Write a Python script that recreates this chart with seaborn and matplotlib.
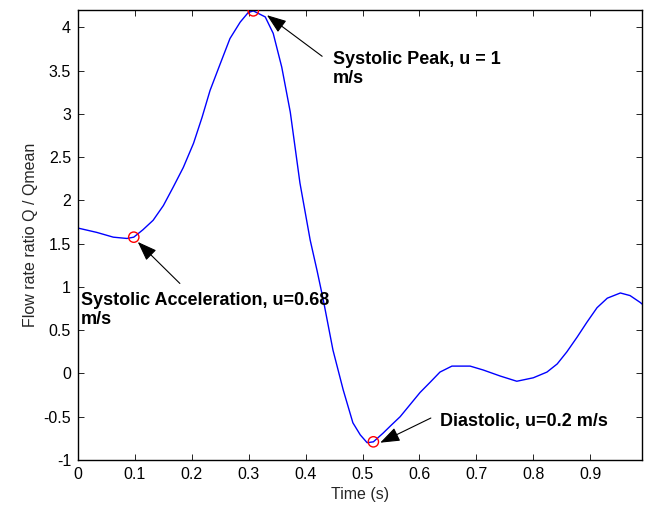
import numpy as np
import pandas as pd
import seaborn as sns
import matplotlib
matplotlib.use("Agg")
import matplotlib.pyplot as plt
from matplotlib.ticker import FormatStrFormatter

# Flow waveform
time_s = [0.0, 0.033, 0.062, 0.086, 0.098, 0.114, 0.132, 0.150, 0.167, 0.185,
          0.203, 0.218, 0.232, 0.250, 0.267, 0.285, 0.299, 0.308, 0.329, 0.343,
          0.358, 0.373, 0.390, 0.408, 0.420, 0.431, 0.448, 0.466, 0.483, 0.496,
          0.508, 0.519, 0.536, 0.550, 0.566, 0.601, 0.619, 0.636, 0.657, 0.689,
          0.712, 0.742, 0.771, 0.800, 0.824, 0.842, 0.859, 0.877, 0.894, 0.912,
          0.930, 0.953, 0.970, 0.988, 0.997]
flow_ratio = [1.68, 1.63, 1.575, 1.56, 1.575, 1.66, 1.77, 1.94, 2.15, 2.38,
              2.66, 2.96, 3.27, 3.58, 3.87, 4.06, 4.17, 4.19, 4.12, 3.93,
              3.54, 3.02, 2.20, 1.54, 1.19, 0.85, 0.27, -0.19, -0.57, -0.71,
              -0.80, -0.79, -0.69, -0.60, -0.50, -0.22, -0.10, 0.016, 0.085, 0.085,
              0.04, -0.03, -0.09, -0.05, 0.016, 0.11, 0.25, 0.42, 0.59, 0.76,
              0.87, 0.93, 0.90, 0.82, 0.77]

# marked phases
phase_t = [0.098, 0.308, 0.519]
phase_q = [1.575, 4.19, -0.79]
phase_labels = ["Systolic Acceleration, u=0.68\nm/s",
                "Systolic Peak, u = 1\nm/s",
                "Diastolic, u=0.2 m/s"]
# arrow heads / tails / text anchors (data coords)
arrow_head = [(0.105, 1.52), (0.332, 4.14), (0.531, -0.80)]
arrow_tail = [(0.179, 1.04), (0.429, 3.665), (0.620, -0.515)]
text_pos = [(0.005, 0.738), (0.448, 3.515), (0.636, -0.56)]

sns.set_style("ticks")
plt.rcParams['font.family'] = ['Liberation Sans', 'DejaVu Sans']

fig = plt.figure(figsize=(6.45, 5.13), dpi=100)
ax = fig.add_axes([78 / 645, 1 - 460 / 513, 564 / 645, 450 / 513])

df = pd.DataFrame({"t": time_s, "q": flow_ratio})
sns.lineplot(data=df, x="t", y="q", ax=ax, color="#0000ff", lw=1.0, sort=False)
sns.scatterplot(x=phase_t, y=phase_q, ax=ax, s=55, facecolor="none",
                edgecolor="red", linewidth=1.0, zorder=5)

for head, tail, pos, lab in zip(arrow_head, arrow_tail, text_pos, phase_labels):
    ax.annotate("", xy=head, xytext=tail,
                arrowprops=dict(arrowstyle="-|>,head_length=0.6,head_width=0.22",
                                color="k", lw=0.8, mutation_scale=20,
                                shrinkA=0, shrinkB=0))
    ax.text(pos[0], pos[1], lab, ha="left", va="center", fontsize=13,
            fontweight="bold", color="k", linespacing=1.15)

ax.set_xlim(0, 0.991)
ax.set_ylim(-1, 4.2)
ax.set_xticks(np.arange(0, 0.95, 0.1))
ax.set_yticks(np.arange(-1, 4.01, 0.5))
ax.xaxis.set_major_formatter(FormatStrFormatter('%g'))
ax.yaxis.set_major_formatter(FormatStrFormatter('%g'))
ax.tick_params(direction="in", length=4, width=0.6, top=True, right=True,
               labelsize=11.5, colors="k", pad=5)
for sp in ax.spines.values():
    sp.set_visible(True)
    sp.set_linewidth(1.0)
    sp.set_color("k")

ax.set_xlabel("Time (s)", fontsize=11.5, labelpad=4)
ax.set_ylabel("Flow rate ratio Q / Qmean", fontsize=11.5, labelpad=4)

fig.savefig("out.png", dpi=100)
